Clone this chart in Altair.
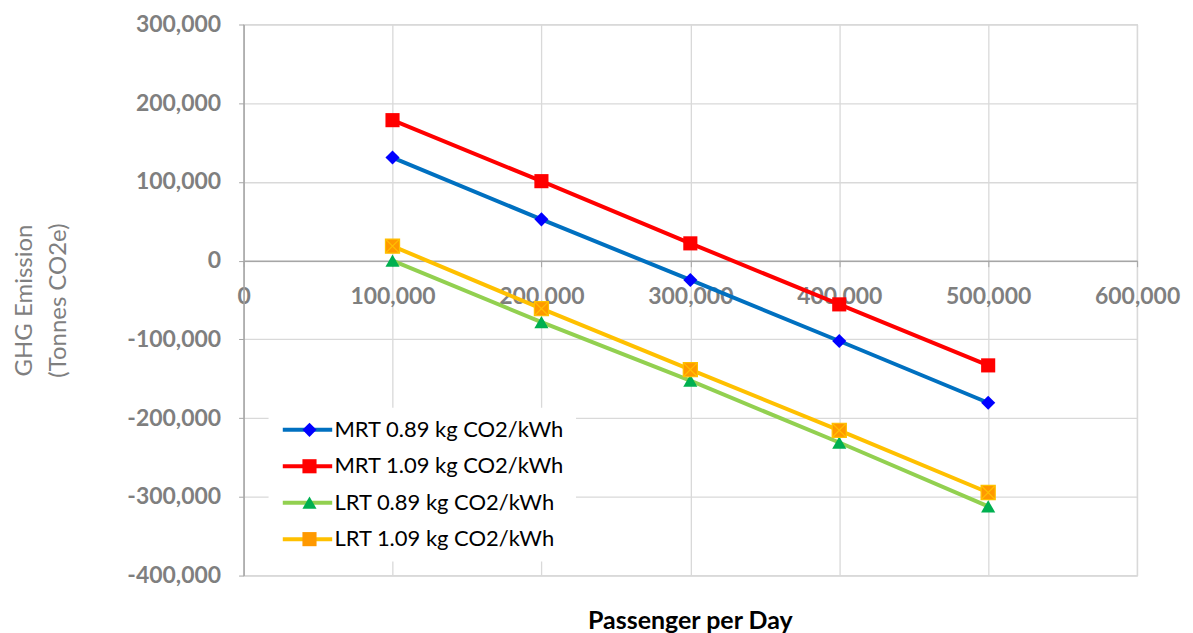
import altair as alt
import pandas as pd

passengers = [100000, 200000, 300000, 400000, 500000]
series_names = ["MRT 0.89 kg CO2/kWh", "MRT 1.09 kg CO2/kWh",
                "LRT 0.89 kg CO2/kWh", "LRT 1.09 kg CO2/kWh"]
mrt_089 = [131000, 52500, -24500, -102000, -180500]
mrt_109 = [178500, 101000, 22000, -55500, -133000]
lrt_089 = [0, -78000, -152500, -231000, -312000]
lrt_109 = [18500, -61000, -138500, -215500, -294500]

line_colors = ["#0070C0", "#FF0000", "#92D050", "#FFC000"]
marker_colors = ["#0000FF", "#FF0000", "#00B050", "#FF9900"]
marker_shapes = ["diamond", "square", "triangle-up", "square"]
x_ticks = [0, 100000, 200000, 300000, 400000, 500000, 600000]
y_ticks = [-400000, -300000, -200000, -100000, 0, 100000, 200000, 300000]

rows = []
for name, vals in zip(series_names, [mrt_089, mrt_109, lrt_089, lrt_109]):
    for p, v in zip(passengers, vals):
        rows.append({"series": name, "passengers": p, "emission": v})
df = pd.DataFrame(rows)

FONT = "Lato"
GRAY = "#7F7F7F"
W, H = 895, 552
zero_offset = -(H - H * 300000 / 700000)
hyphen = "replace(datum.label, '\u2212', '-')"

x_enc = alt.X("passengers:Q",
              scale=alt.Scale(domain=[0, 600000], nice=False, zero=False),
              axis=alt.Axis(values=x_ticks, format=",.0f", title=None, offset=zero_offset,
                            labelFont=FONT, labelFontSize=23, labelFontWeight="bold",
                            labelColor=GRAY, labelPadding=19, tickSize=6,
                            tickColor="#A6A6A6", domainColor="#A6A6A6", domainWidth=1.5,
                            grid=True, gridColor="#D9D9D9", gridWidth=1.3,
                            labelFlush=False))
y_enc = alt.Y("emission:Q",
              scale=alt.Scale(domain=[-400000, 300000], nice=False),
              axis=alt.Axis(values=y_ticks, format=",.0f", labelExpr=hyphen,
                            title=["GHG Emission", "(Tonnes CO2e)"],
                            titleFont=FONT, titleFontSize=24, titleFontWeight="normal",
                            titleColor=GRAY, titlePadding=56, titleLineHeight=34,
                            labelFont=FONT, labelFontSize=23, labelFontWeight="bold",
                            labelColor=GRAY, labelPadding=18, tickSize=5,
                            tickColor="#A6A6A6", domainColor="#A6A6A6", domainWidth=1.5,
                            grid=True, gridColor="#D9D9D9", gridWidth=1.3))

SYM = 200
LEG_X, LEG_Y = 25, 384
lines = alt.Chart(df).mark_line(strokeWidth=4).encode(
    x=x_enc, y=y_enc,
    stroke=alt.Stroke("series:N",
                      scale=alt.Scale(domain=series_names, range=line_colors),
                      legend=alt.Legend(orient="none", legendX=LEG_X, legendY=LEG_Y, title=None,
                                        symbolType="M-3.5,0H3.5", symbolSize=SYM,
                                        symbolStrokeWidth=4, symbolOffset=17,
                                        labelFont=FONT, labelFontSize=22,
                                        labelColor="#000000", labelOffset=16,
                                        labelLimit=400, rowPadding=14.5, padding=11,
                                        fillColor="#FFFFFF")),
    detail="series:N",
)

pt_legend = alt.Legend(orient="none", legendX=LEG_X, legendY=LEG_Y, title=None,
                       labelFont=FONT, labelFontSize=22, labelColor="transparent",
                       labelOffset=16, symbolOffset=19,
                       labelLimit=400, rowPadding=14.5, padding=11, symbolSize=SYM,
                       symbolStrokeWidth=0)
points = alt.Chart(df).mark_point(filled=True, opacity=1, size=SYM, strokeWidth=0).encode(
    x="passengers:Q", y="emission:Q",
    fill=alt.Fill("series:N", scale=alt.Scale(domain=series_names, range=marker_colors),
                  legend=pt_legend),
    shape=alt.Shape("series:N", scale=alt.Scale(domain=series_names, range=marker_shapes),
                    legend=pt_legend),
)

# yellow cross-box overlay on the LRT 1.09 markers
crosses = alt.Chart(df).transform_filter(
    alt.datum.series == series_names[3]
).mark_point(shape="M-1,-1L1,1M1,-1L-1,1M-1,-1H1V1H-1Z", filled=False, size=SYM,
             stroke="#FFC000", strokeWidth=1.2, opacity=1).encode(
    x="passengers:Q", y="emission:Q",
)

chart = alt.layer(lines, points, crosses).resolve_scale(
    stroke="independent", fill="independent", shape="independent"
).properties(
    width=W, height=H,
    padding={"left": 4, "top": 5, "right": 5, "bottom": 5},
    title=alt.TitleParams("Passenger per Day", orient="bottom", font=FONT, fontSize=25,
                          fontWeight="bold", color="#000000", offset=22),
).configure_view(stroke="#D9D9D9", strokeWidth=1.3)

chart.save("out.html", embed_options={"renderer": "svg", "actions": False})
